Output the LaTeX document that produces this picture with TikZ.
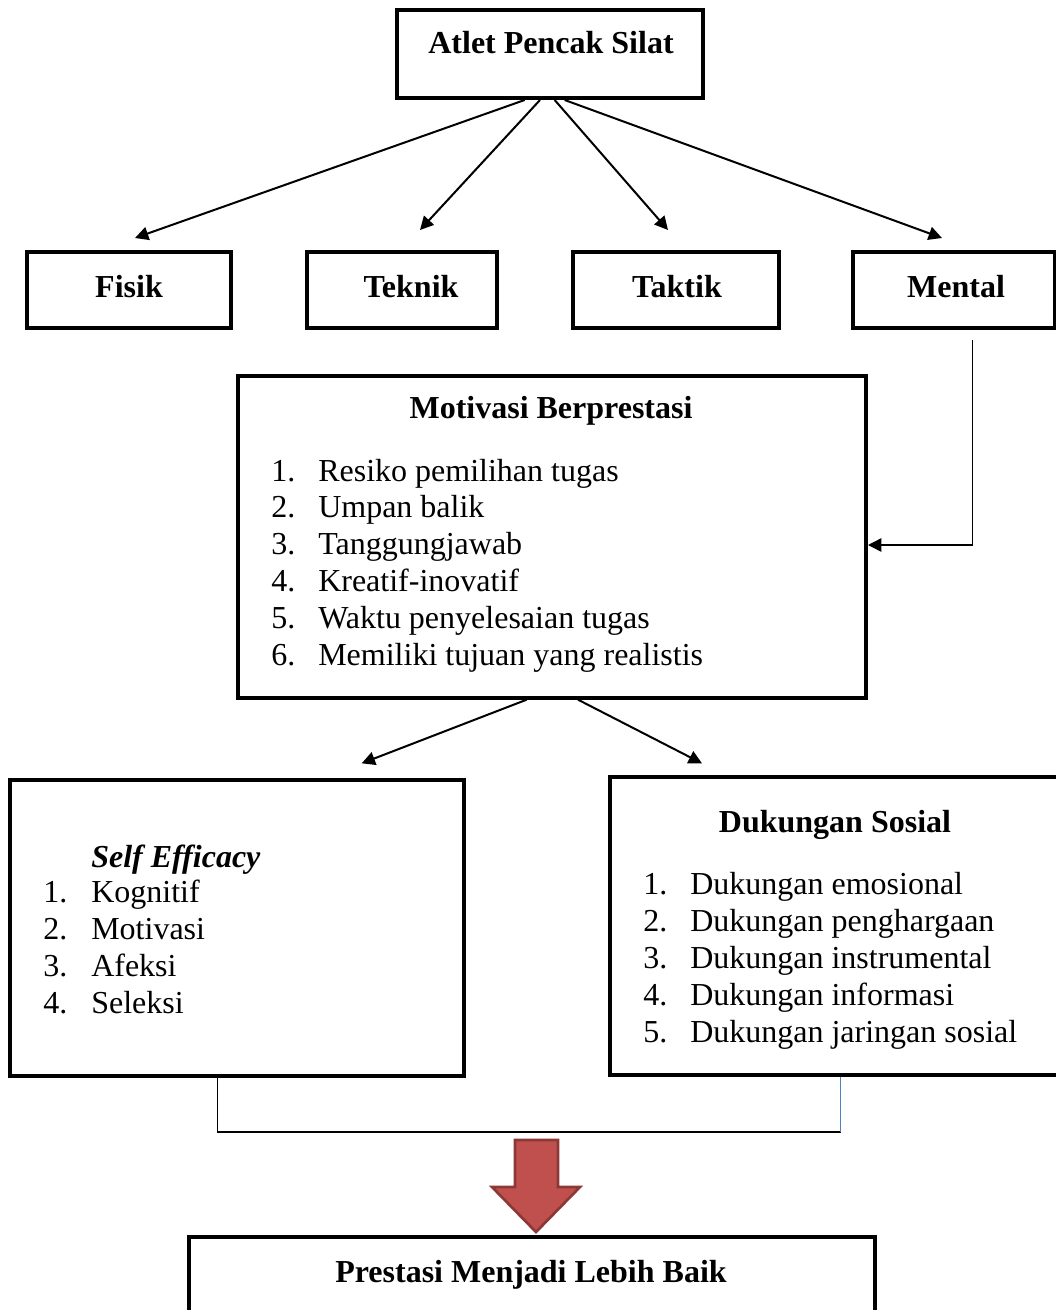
\documentclass[tikz,border=0pt]{standalone}
\usepackage{fontspec}
\setmainfont{Liberation Serif}
\usetikzlibrary{arrows.meta}
\definecolor{arrowred}{HTML}{C0504D}
\definecolor{arrowedge}{HTML}{8C3836}
\definecolor{linkblue}{HTML}{4F81BD}
\tikzset{
  box/.style={draw, line width=3pt, inner sep=0pt},
  txt/.style={font=\fontsize{24}{29}\selectfont, inner sep=0pt, anchor=base},
  item/.style={font=\fontsize{24}{29}\selectfont, inner sep=0pt, anchor=base west},
  link/.style={->, line width=1.5pt},
}

\begin{document}
\begin{tikzpicture}[x=0.75pt, y=-0.75pt, >={Triangle[length=10pt,width=10pt]}]
    \useasboundingbox (0,0) rectangle (1056,1310);

    % Top box
    \node[box, minimum width=229pt, minimum height=66pt] (atlet) at (550,54) {};
    \node[txt] (atlettxt) at (551,53) {\textbf{Atlet Pencak Silat}};

    % Four aspects
    \node[box, minimum width=153pt, minimum height=57pt] (fisik) at (129,290) {};
    \node[box, minimum width=142pt, minimum height=57pt] (teknik) at (402,290) {};
    \node[box, minimum width=155pt, minimum height=57pt] (taktik) at (676,290) {};
    \node[box, minimum width=152pt, minimum height=57pt] (mental) at (954,290) {};
    \node[txt] (fisiktxt) at (129,297) {\textbf{Fisik}};
    \node[txt] (tekniktxt) at (411,297) {\textbf{Teknik}};
    \node[txt] (taktiktxt) at (677,297) {\textbf{Taktik}};
    \node[txt] (mentaltxt) at (956,297) {\textbf{Mental}};

    % Arrows to the aspects
    \draw[link] ([xshift=-19pt]atlet.south) -- ([xshift=4.5pt,yshift=9pt]fisik.north);
    \draw[link] ([xshift=-7.5pt]atlet.south) -- ([xshift=13.5pt,yshift=15pt]teknik.north);
    \draw[link] ([xshift=3.5pt]atlet.south) -- ([xshift=-6pt,yshift=15pt]taktik.north);
    \draw[link] ([xshift=11pt]atlet.south) -- ([xshift=-9pt,yshift=9pt]mental.north);

    % Motivasi Berprestasi
    \node[box, minimum width=471pt, minimum height=241pt] (motiv) at (552,537) {};
    \node[txt] (motivtxt) at (551,418) {\textbf{Motivasi Berprestasi}};
    \foreach \t [count=\i] in {Resiko pemilihan tugas, Umpan balik, Tanggungjawab,
        Kreatif-inovatif, Waktu penyelesaian tugas, Memiliki tujuan yang realistis} {
        \node[item] (mnum\i) at (271,444.2+36.8*\i) {\i.};
        \node[item] (mitem\i) at (318,444.2+36.8*\i) {\t};
    }

    % Mental feeds motivation
    \draw[->, line width=1.1pt] ([xshift=14pt,yshift=-7.5pt]mental.south) |- ([yshift=-6pt]motiv.east);

    % Self Efficacy
    \node[box, minimum width=340pt, minimum height=222pt] (self) at (237,928) {};
    \node[item] (selftxt) at (91,867) {\textbf{\textit{Self Efficacy}}};
    \foreach \t [count=\i] in {Kognitif, Motivasi, Afeksi, Seleksi} {
        \node[item] (snum\i) at (43,864.7+37.3*\i) {\i.};
        \node[item] (sitem\i) at (91,864.7+37.3*\i) {\t};
    }

    % Dukungan Sosial
    \node[box, minimum width=336pt, minimum height=223pt] (dukung) at (834,926) {};
    \node[txt] (dukungtxt) at (835,832) {\textbf{Dukungan Sosial}};
    \foreach \t [count=\i] in {Dukungan emosional, Dukungan penghargaan, Dukungan instrumental,
        Dukungan informasi, Dukungan jaringan sosial} {
        \node[item] (dnum\i) at (643,857+37*\i) {\i.};
        \node[item] (ditem\i) at (690,857+37*\i) {\t};
    }

    % Arrows from motivation
    \draw[link] ([xshift=-19pt]motiv.south) -- ([xshift=93.5pt,yshift=11pt]self.north);
    \draw[link] ([xshift=19.5pt]motiv.south) -- ([xshift=-99pt,yshift=9pt]dukung.north);

    % Joining bracket
    \coordinate (sfoot) at ([xshift=-14.5pt]self.south);
    \coordinate (dfoot) at ([xshift=5pt]dukung.south);
    \draw[line width=1.1pt] (sfoot) -- (sfoot |- 0,1132) -- (dfoot |- 0,1132);
    \draw[linkblue, line width=1.1pt] (dfoot |- 0,1132) -- (dfoot);

    % Big arrow
    \draw[fill=arrowred, draw=arrowedge, line width=2pt, line join=miter]
        (515,1140) -- (558,1140) -- (558,1187) -- (580,1187) -- (536,1232)
        -- (492,1187) -- (515,1187) -- cycle;

    % Result
    \node[box, minimum width=514pt, minimum height=64pt] (hasil) at (532,1280) {};
    \node[txt] (hasiltxt) at (531,1282) {\textbf{Prestasi Menjadi Lebih Baik}};
\end{tikzpicture}
\end{document}
